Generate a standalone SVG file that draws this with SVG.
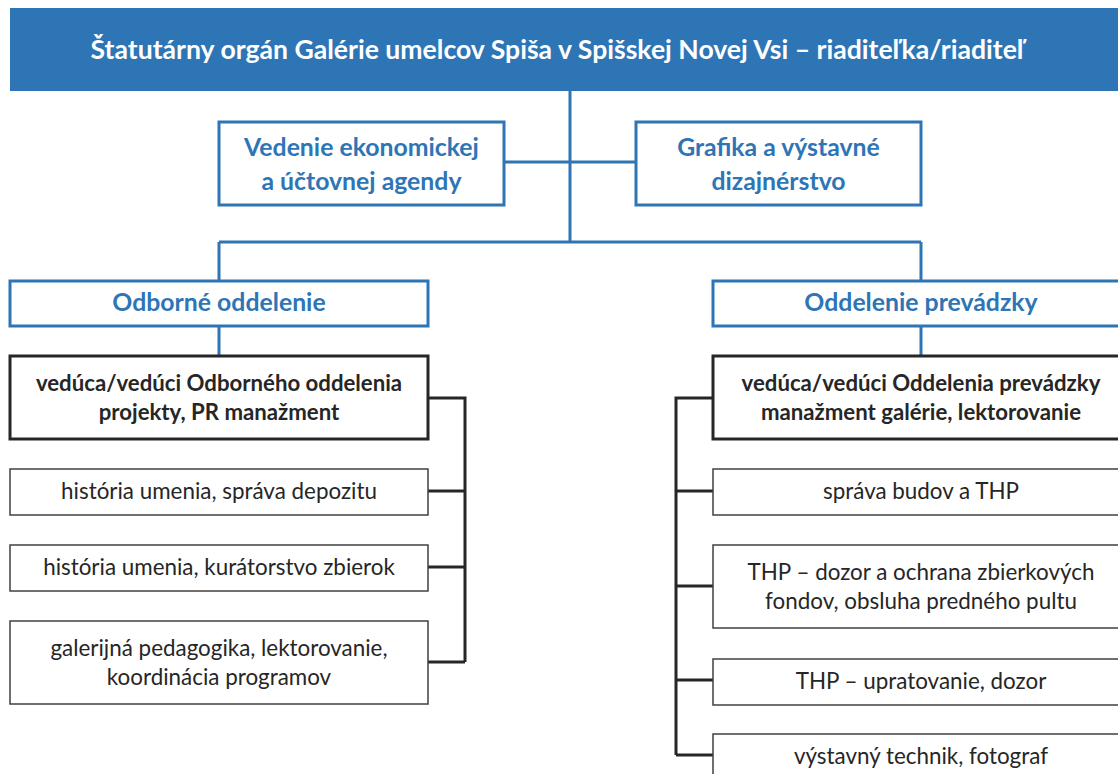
<svg xmlns="http://www.w3.org/2000/svg" width="1118" height="774" viewBox="0 0 1118 774">
<style>
text{font-family:Lato,"Open Sans","Liberation Sans",sans-serif;text-anchor:middle}
.title{fill:#fff;font-weight:bold;font-size:26.6px}
.bt{fill:#2E75B6;font-weight:bold;font-size:24.8px}
.kt{fill:#262626;font-weight:bold;font-size:22.2px}
.gt{fill:#262626;font-size:22.4px}
.bb{fill:#fff;stroke:#2E75B6;stroke-width:3}
.kb{fill:#fff;stroke:#262626;stroke-width:3}
.gb{fill:#fff;stroke:#404040;stroke-width:1.5}
.bc{fill:none;stroke:#2E75B6;stroke-width:3}
.kc{fill:none;stroke:#262626;stroke-width:3}
</style>
<rect width="1118" height="774" fill="#fff"/>
<g id="connectors">
<path class="bc" d="M570 91V242M504 162H636M219 242H921M219 242V281M921 242V281M219 326V356M921 326V356"/>
<path class="kc" d="M428 398H465V662M428 491H465M428 567H465M428 662H465"/>
<path class="kc" d="M713 398H676V755M676 491H713M676 586H713M676 680H713M676 755H713"/>
</g>
<g id="n-root">
<rect x="10" y="8" width="1120" height="83" fill="#2E75B6"/>
<text class="title" x="557" y="59">Štatutárny orgán Galérie umelcov Spiša v Spišskej Novej Vsi – riaditeľka/riaditeľ</text>
</g>
<g id="n-ekon">
<rect class="bb" x="219" y="122" width="285" height="83"/>
<text class="bt" x="361.5" y="156">Vedenie ekonomickej</text>
<text class="bt" x="361.5" y="190">a účtovnej agendy</text>
</g>
<g id="n-grafika">
<rect class="bb" x="636" y="122" width="285" height="83"/>
<text class="bt" x="778.5" y="156">Grafika a výstavné</text>
<text class="bt" x="778.5" y="190">dizajnérstvo</text>
</g>
<g id="n-odborne">
<rect class="bb" x="10" y="281" width="418" height="45"/>
<text class="bt" x="219" y="311">Odborné oddelenie</text>
</g>
<g id="n-prevadzka">
<rect class="bb" x="713" y="281" width="420" height="45"/>
<text class="bt" x="921" y="311">Oddelenie prevádzky</text>
</g>
<g id="n-ved-odb">
<rect class="kb" x="10" y="356" width="418" height="83"/>
<text class="kt" x="219" y="391">vedúca/vedúci Odborného oddelenia</text>
<text class="kt" x="219" y="420">projekty, PR manažment</text>
</g>
<g id="n-ved-prev">
<rect class="kb" x="713" y="356" width="420" height="83"/>
<text class="kt" x="921" y="391">vedúca/vedúci Oddelenia prevádzky</text>
<text class="kt" x="921" y="420">manažment galérie, lektorovanie</text>
</g>
<g id="n-l1">
<rect class="gb" x="10" y="469" width="418" height="46"/>
<text class="gt" x="219" y="499">história umenia, správa depozitu</text>
</g>
<g id="n-l2">
<rect class="gb" x="10" y="545" width="418" height="46"/>
<text class="gt" x="219" y="575">história umenia, kurátorstvo zbierok</text>
</g>
<g id="n-l3">
<rect class="gb" x="10" y="621" width="418" height="83"/>
<text class="gt" x="219" y="656">galerijná pedagogika, lektorovanie,</text>
<text class="gt" x="219" y="685">koordinácia programov</text>
</g>
<g id="n-r1">
<rect class="gb" x="713" y="469" width="420" height="46"/>
<text class="gt" x="921" y="499">správa budov a THP</text>
</g>
<g id="n-r2">
<rect class="gb" x="713" y="545" width="420" height="83"/>
<text class="gt" x="921" y="580">THP – dozor a ochrana zbierkových</text>
<text class="gt" x="921" y="609">fondov, obsluha predného pultu</text>
</g>
<g id="n-r3">
<rect class="gb" x="713" y="659" width="420" height="46"/>
<text class="gt" x="921" y="689">THP – upratovanie, dozor</text>
</g>
<g id="n-r4">
<rect class="gb" x="713" y="734" width="420" height="60"/>
<text class="gt" x="921" y="764">výstavný technik, fotograf</text>
</g>
</svg>
